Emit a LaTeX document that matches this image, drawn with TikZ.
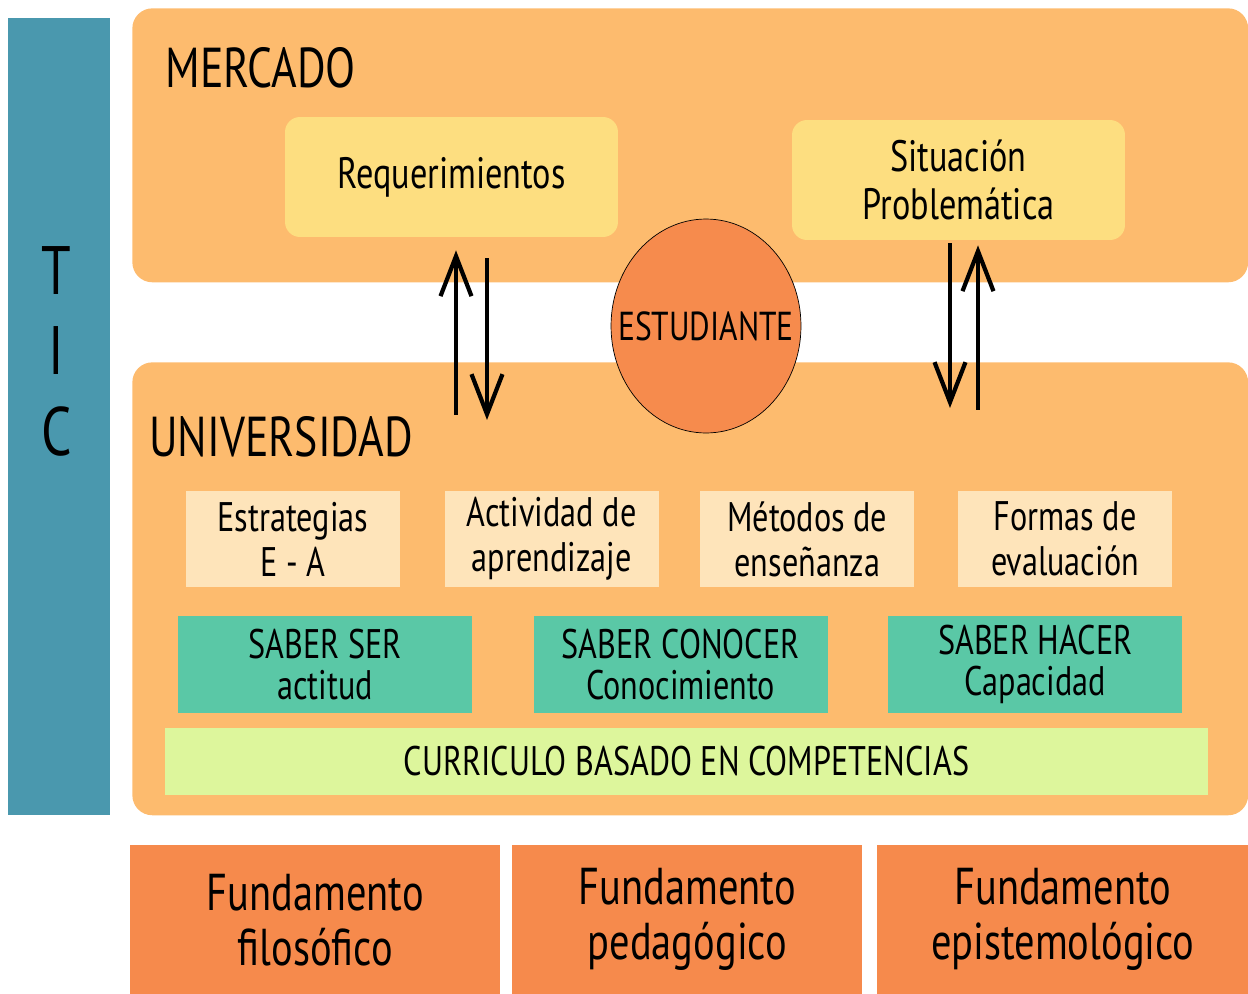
\documentclass[tikz,border=0pt]{standalone}
\usepackage{fontspec}
\setmainfont{PT Sans}[FakeStretch=0.78]
\usetikzlibrary{positioning,shapes.geometric,arrows.meta}

\definecolor{ticblue}{HTML}{4A98AE}
\definecolor{bandorange}{HTML}{FDBB6E}
\definecolor{reqyellow}{HTML}{FDDE80}
\definecolor{studorange}{HTML}{F68B4D}
\definecolor{paleorange}{HTML}{FEE4BA}
\definecolor{saberteal}{HTML}{5AC8A6}
\definecolor{curgreen}{HTML}{DDF69C}
\definecolor{fundorange}{HTML}{F68A4C}

\tikzset{
  band/.style={fill=bandorange, rounded corners=0.4cm, anchor=north west,
    minimum width=22.32cm, inner sep=0pt},
  title/.style={anchor=west, inner sep=0pt, font=\fontsize{32}{36}\selectfont},
  yellowbox/.style={fill=reqyellow, rounded corners=0.3cm, minimum width=6.66cm,
    minimum height=2.4cm, align=center, font=\fontsize{25}{27.5}\selectfont},
  tipbox/.style={fill=paleorange, minimum width=4.28cm, minimum height=1.94cm,
    align=center, font=\fontsize{23.5}{25.6}\selectfont},
  saberbox/.style={fill=saberteal, minimum width=5.88cm, minimum height=1.94cm,
    align=center, font=\fontsize{23.5}{23}\selectfont},
  fundbox/.style={fill=fundorange, minimum height=2.98cm, anchor=north west,
    align=center, font=\fontsize{29.5}{31.3}\selectfont},
  flow/.style={-{Straight Barb[length=0.8cm, width=0.62cm]}, line width=2.4pt}
}

\begin{document}
\begin{tikzpicture}[x=0.02cm, y=-0.02cm]
  \useasboundingbox (0,0) rectangle (1248,994);

  % TIC bar
  \node[fill=ticblue, anchor=north west, minimum width=2.04cm,
    minimum height=15.94cm] (tic) at (8,18) {};
  \node[align=center, font=\fontsize{39}{46}\selectfont]
    (ticlbl) at ([xshift=-0.06cm,yshift=1.31cm]tic.center) {T\\I\\C};

  % bands
  \node[band, minimum height=5.48cm] (mercado) at (132,8) {};
  \node[band, minimum height=9.06cm] (uni) at (132,362) {};
  \node[title] (mercadolbl) at (165,68) {MERCADO};
  \node[title] (unilbl) at (149,437) {UNIVERSIDAD};

  \node[yellowbox] (req) at (451.5,177) {Requerimientos};
  \node[yellowbox] (sit) at (958.5,180) {Situación\\Problemática};

  \node[ellipse, fill=studorange, draw=black, thin, inner sep=0pt,
    minimum width=3.8cm, minimum height=4.28cm,
    font=\fontsize{23}{26}\selectfont] (est) at (706,326)
    {\makebox[0pt]{ESTUDIANTE}};

  % arrows
  \draw[flow] ([xshift=0.09cm,yshift=-1.06cm]req.south |- uni.north)
    -- ([xshift=0.09cm,yshift=-0.26cm]req.south);
  \draw[flow] ([xshift=0.71cm,yshift=-0.42cm]req.south)
    -- ([xshift=0.71cm,yshift=-1.16cm]req.south |- uni.north);
  \draw[flow] ([xshift=-0.17cm,yshift=-0.06cm]sit.south)
    -- ([xshift=-0.17cm,yshift=-0.92cm]sit.south |- uni.north);
  \draw[flow] ([xshift=0.39cm,yshift=-0.96cm]sit.south |- uni.north)
    -- ([xshift=0.39cm,yshift=-0.1cm]sit.south);

  % universidad content
  \node[tipbox] (estr) at (293,539) {Estrategias\\E - A};
  \node[tipbox, right=0.88cm of estr] (activ) {Actividad de\\aprendizaje};
  \node[tipbox, right=0.82cm of activ] (metod) {Métodos de\\enseñanza};
  \node[tipbox, right=0.86cm of metod] (formas) {Formas de\\evaluación};

  \node[saberbox] (ser) at (325,664.5) {SABER SER\\actitud};
  \node[saberbox, right=1.22cm of ser] (conocer) {SABER CONOCER\\Conocimiento};
  \node[saberbox, right=1.2cm of conocer] (hacer) {SABER HACER\\Capacidad};

  \node[fill=curgreen, minimum width=20.86cm, minimum height=1.34cm,
    font=\fontsize{23.5}{26}\selectfont] (curr) at (686.5,761.5)
    {CURRICULO BASADO EN COMPETENCIAS};

  % fundamentos
  \node[fundbox, minimum width=7.4cm] (filo) at (130,845) {Fundamento\\filosófico};
  \node[fundbox, minimum width=7cm] (peda) at (512,845) {Fundamento\\pedagógico};
  \node[fundbox, minimum width=7.42cm] (epis) at (877,845) {Fundamento\\epistemológico};
\end{tikzpicture}
\end{document}
